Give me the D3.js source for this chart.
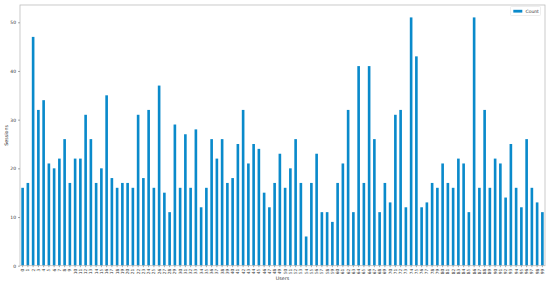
<!DOCTYPE html>
<html><head><meta charset="utf-8">
<script src="https://cdn.jsdelivr.net/npm/d3@7"></script>
<style>body{margin:0;background:#fff}svg{display:block}</style>
</head><body>
<script>
const users = d3.range(0, 100).map(String);
const counts = [16,17,47,32,34,21,20,22,26,17,22,22,31,26,17,20,35,18,16,17,
17,16,31,18,32,16,37,15,11,29,16,27,16,28,12,16,26,22,26,17,
18,25,32,21,25,24,15,12,17,23,16,20,26,17,6,17,23,11,11,9,
17,21,32,11,41,17,41,26,11,17,13,31,32,12,51,43,12,13,17,16,
21,17,16,22,21,11,51,16,32,16,22,21,14,25,16,12,26,16,13,11];
const yTicks = [0,10,20,30,40,50];
const seriesName = "Count";
const xTitle = "Users", yTitle = "Sessions";

const W = 550, H = 284;
const m = {l:20, r:5, t:5, b:18.3};
const color = "#0a8acb";
const font = "DejaVu Sans, sans-serif";

const svg = d3.select("body").append("svg").attr("width", W).attr("height", H);
const x = d3.scaleBand().domain(users).range([m.l, W - m.r]).paddingInner(0.5).paddingOuter(0.25);
const y = d3.scaleLinear().domain([0, d3.max(counts) * 1.05]).range([H - m.b, m.t]);

svg.append("g").selectAll("rect").data(counts).join("rect")
  .attr("x", (d, i) => x(users[i])).attr("width", x.bandwidth())
  .attr("y", d => y(d)).attr("height", d => y(0) - y(d))
  .attr("fill", color);

// frame
svg.append("rect").attr("x", m.l).attr("y", m.t)
  .attr("width", W - m.r - m.l).attr("height", H - m.b - m.t)
  .attr("fill", "none").attr("stroke", "#bdbdbd").attr("stroke-width", 0.8);

const yAxis = svg.append("g").attr("transform", `translate(${m.l},0)`)
  .call(d3.axisLeft(y).tickValues(yTicks).tickSize(2).tickPadding(2));
yAxis.select(".domain").remove();
yAxis.selectAll("line").attr("stroke", "#555").attr("stroke-width", 0.5);
yAxis.selectAll("text").attr("font-size", 4.5).attr("font-family", font).attr("fill", "#333");

const xAxis = svg.append("g").attr("transform", `translate(0,${H - m.b})`)
  .call(d3.axisBottom(x).tickSize(1.5).tickPadding(1));
xAxis.select(".domain").remove();
xAxis.selectAll("line").attr("stroke", "#555").attr("stroke-width", 0.5);
xAxis.selectAll("text").attr("font-size", 4.3).attr("font-family", font).attr("fill", "#333")
  .attr("transform", "rotate(-90)").attr("text-anchor", "end")
  .attr("x", -3).attr("y", 0).attr("dy", "0.35em");

svg.append("text").attr("x", (m.l + W - m.r) / 2).attr("y", 280)
  .attr("text-anchor", "middle").attr("font-size", 4.8).attr("font-family", font).attr("fill", "#333").text(xTitle);
svg.append("text").attr("transform", `translate(7.5,${(m.t + H - m.b) / 2}) rotate(-90)`)
  .attr("text-anchor", "middle").attr("font-size", 4.8).attr("font-family", font).attr("fill", "#333").text(yTitle);

// legend
const lg = svg.append("g");
lg.append("rect").attr("x", 510.5).attr("y", 6.5).attr("width", 30).attr("height", 9)
  .attr("fill", "#fff").attr("stroke", "#ddd").attr("stroke-width", 0.5).attr("rx", 1);
lg.append("rect").attr("x", 513.3).attr("y", 9.8).attr("width", 9).attr("height", 2.8).attr("fill", color);
lg.append("text").attr("x", 525.5).attr("y", 11.2).attr("dy", "0.35em")
  .attr("font-size", 4.5).attr("font-family", font).attr("fill", "#333").text(seriesName);
</script>
</body></html>
